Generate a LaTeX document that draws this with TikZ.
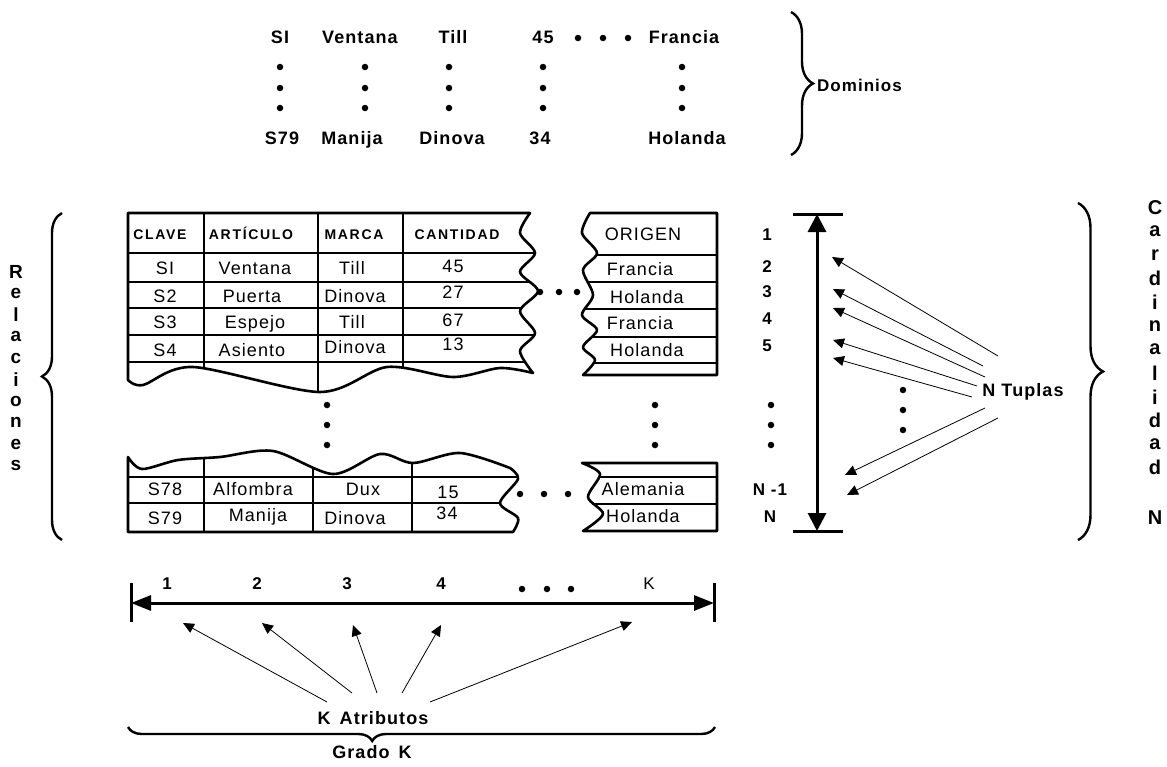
\documentclass[tikz,border=0pt]{standalone}
\usepackage{fontspec}
\setmainfont{Liberation Sans}[LetterSpace=6]
\newfontfamily\hfont{Liberation Sans}[LetterSpace=12]
\usetikzlibrary{arrows.meta,decorations.pathreplacing}
\begin{document}
\begin{tikzpicture}[x=1pt,y=-1pt,
  outl/.style={line width=2.6pt,line join=round},
  rowl/.style={line width=1.8pt},
  coll/.style={line width=2.3pt},
  dot/.style={circle,fill=black,inner sep=0pt,minimum size=6.5pt},
  lab/.style={font=\bfseries\fontsize{18}{21}\selectfont,inner sep=0pt,anchor=base,yshift=-6.4pt},
  cell/.style={font=\fontsize{18}{21}\selectfont,inner sep=0pt,anchor=base,yshift=-6.4pt},
  head/.style={font=\hfont\bfseries\fontsize{14}{17}\selectfont,inner sep=0pt,anchor=base,yshift=-5pt},
  num/.style={font=\bfseries\fontsize{17}{20}\selectfont,inner sep=0pt,anchor=base,yshift=-6.1pt},
  vlet/.style={font=\bfseries\fontsize{19}{22}\selectfont,inner sep=0pt},
  bigarrow/.style={line width=3pt,{Triangle[width=18pt,length=18pt]}-{Triangle[width=18pt,length=18pt]}},
  hbigarrow/.style={line width=3pt,{Triangle[width=15pt,length=20pt]}-{Triangle[width=15pt,length=20pt]}},
  thinarrow/.style={line width=0.8pt,-{Triangle[width=10pt,length=11pt]}},
  tick/.style={line width=3pt},
  brc/.style={decorate,line width=2.4pt,decoration={brace,amplitude=#1}},
  pUM/.style={insert path={(128,213) -- (530,213) -- plot[smooth] coordinates {(530,213) (520,233) (535,253) (520,272) (538,291) (520,311) (535,333) (520,351) (533,373)} -- plot[smooth] coordinates {(533,373) (500,368) (453,377) (387,367) (320,392) (193,367) (143,385) (128,380)} -- cycle}},
  pUO/.style={insert path={(590,213) -- (717,213) -- (717,375) -- (583,375) -- plot[smooth] coordinates {(583,375) (595,360) (583,347) (597,330) (582,315) (593,295) (583,270) (597,253) (582,233) (590,213)} -- cycle}},
  pLM/.style={insert path={(128,532) -- (128,457) -- plot[smooth] coordinates {(128,457) (142,469) (178,460) (220,457) (273,451) (333,474) (380,454) (413,463) (460,453) (510,468)} -- plot[smooth] coordinates {(510,468) (518,479) (500,503) (518,518) (513,532)} -- cycle}},
  pLO/.style={insert path={(582,463) -- (717,463) -- (717,531) -- (583,531) -- plot[smooth] coordinates {(583,531) (603,514) (588,497) (600,474) (582,463)} -- cycle}}
]
\fill[white] (0,0) rectangle (1167,766);
\useasboundingbox (0,0) rectangle (1167,766);

% ---------- Dominios ----------
\node[lab] (dSI) at (280,37) {SI};
\node[lab] (dVen) at (360,37) {Ventana};
\node[lab] (dTill) at (453,37) {Till};
\node[lab] (d45) at (543,37) {45};
\node[lab] (dFra) at (684,37) {Francia};
\node[dot] (dh1) at (578,38) {};
\node[dot] (dh2) at (603,38) {};
\node[dot] (dh3) at (628,38) {};
\foreach \xx/\nn in {280/a,365/b,449/c,543/d,682/e}
  \foreach \yy/\mm in {67/1,88/2,108/3}
    \node[dot] (dv\nn\mm) at (\xx,\yy) {};
\node[lab] (dS79) at (282,138) {S79};
\node[lab] (dMan) at (352,138) {Manija};
\node[lab] (dDin) at (452,138) {Dinova};
\node[lab] (d34) at (540,138) {34};
\node[lab] (dHol) at (687,138) {Holanda};
\draw[brc=22pt] (791,12) -- (791,155);
\node[font=\bfseries\fontsize{17}{20}\selectfont,inner sep=0pt,anchor=west] (dom) at (817,85) {Dominios};

% ---------- upper table ----------
\begin{scope}
\clip[pUM];
\foreach \yy in {253,282,308,335,362} \draw[rowl] (100,\yy) -- (560,\yy);
\foreach \xx in {204,318,403} \draw[coll] (\xx,200) -- (\xx,400);
\end{scope}
\draw[outl,pUM];

\begin{scope}
\clip[pUO];
\foreach \yy in {255,282,309,337,363} \draw[rowl] (560,\yy) -- (730,\yy);
\end{scope}
\draw[outl,pUO];

\node[head] (hCla) at (160,234) {CLAVE};
\node[head] (hArt) at (251,234) {ARTÍCULO};
\node[head] (hMar) at (354,234) {MARCA};
\node[head] (hCan) at (457,234) {CANTIDAD};
\node[cell] (hOri) at (643,234) {ORIGEN};

\node[cell] (c11) at (165,268) {SI};
\node[cell] (c12) at (255,268) {Ventana};
\node[cell] (c13) at (352,268) {Till};
\node[cell] (c14) at (453,266) {45};
\node[cell] (c15) at (640,269) {Francia};
\node[cell] (c21) at (165,296) {S2};
\node[cell] (c22) at (252,296) {Puerta};
\node[cell] (c23) at (355,296) {Dinova};
\node[cell] (c24) at (453,292) {27};
\node[cell] (c25) at (647,297) {Holanda};
\node[cell] (c31) at (165,322) {S3};
\node[cell] (c32) at (255,322) {Espejo};
\node[cell] (c33) at (352,322) {Till};
\node[cell] (c34) at (453,320) {67};
\node[cell] (c35) at (640,323) {Francia};
\node[cell] (c41) at (165,350) {S4};
\node[cell] (c42) at (252,350) {Asiento};
\node[cell] (c43) at (355,347) {Dinova};
\node[cell] (c44) at (453,344) {13};
\node[cell] (c45) at (647,350) {Holanda};

\node[dot] (ud1) at (540,292) {};
\node[dot] (ud2) at (559,292) {};
\node[dot] (ud3) at (577,292) {};

\node[num] (n1) at (767,234) {1};
\node[num] (n2) at (767,266) {2};
\node[num] (n3) at (767,291) {3};
\node[num] (n4) at (767,318) {4};
\node[num] (n5) at (767,345) {5};

% ---------- vertical dots ----------
\foreach \xx/\nn in {327/a,655/b,771/c}
  \foreach \yy/\mm in {405/1,425/2,445/3}
    \node[dot] (vd\nn\mm) at (\xx,\yy) {};

% ---------- lower table ----------
\begin{scope}
\clip[pLM];
\foreach \yy in {477,503} \draw[rowl] (100,\yy) -- (560,\yy);
\foreach \xx in {204,313,412} \draw[coll] (\xx,440) -- (\xx,540);
\end{scope}
\draw[outl,pLM];

\begin{scope}
\clip[pLO];
\foreach \yy in {477,504} \draw[rowl] (560,\yy) -- (730,\yy);
\end{scope}
\draw[outl,pLO];

\node[cell] (l11) at (165,489) {S78};
\node[cell] (l12) at (253,489) {Alfombra};
\node[cell] (l13) at (363,489) {Dux};
\node[cell] (l14) at (448,492) {15};
\node[cell] (l15) at (643,489) {Alemania};
\node[cell] (l21) at (165,518) {S79};
\node[cell] (l22) at (258,515) {Manija};
\node[cell] (l23) at (355,518) {Dinova};
\node[cell] (l24) at (447,513) {34};
\node[cell] (l25) at (643,516) {Holanda};

\node[dot] (ld1) at (520,494) {};
\node[dot] (ld2) at (544,494) {};
\node[dot] (ld3) at (568,494) {};

\node[num] (nN1) at (770,489) {N -1};
\node[num] (nN) at (770,516) {N};

% ---------- cardinality arrow ----------
\coordinate (vt) at (817,214);
\coordinate (vb) at (817,531);
\draw[tick] (793,214) -- (843,214);
\draw[tick] (793,531) -- (843,531);
\draw[bigarrow] (vt) -- (vb);

\node[lab] (ntup) at (1023,390) {N Tuplas};
\foreach \sx/\sy/\tx/\ty [count=\i] in {998/356/832/257, 983/366/833/289, 985/377/833/308, 977/386/833/340, 972/397/833/358, 985/408/845/475, 998/418/847/495}{
  \coordinate (ts\i) at (\sx,\sy);
  \coordinate (tt\i) at (\tx,\ty);
  \draw[thinarrow] (ts\i) -- (tt\i);
}
\node[dot] (nd1) at (903,390) {};
\node[dot] (nd2) at (903,410) {};
\node[dot] (nd3) at (903,430) {};

% ---------- side braces ----------
\draw[brc=20pt] (62,540) -- (62,213);
\foreach \c [count=\k from 0] in {R,e,l,a,c,i,o,n,e,s}
  \node[vlet] (rel\k) at (16,{272+21.55*\k}) {\c};
\draw[brc=25pt] (1078,203) -- (1078,540);
\foreach \c [count=\k from 0] in {C,a,r,d,i,n,a,l,i,d,a,d}
  \node[vlet,font=\bfseries\fontsize{20}{23}\selectfont] (car\k) at (1155,{208+23.6*\k}) {\c};
\node[vlet,font=\bfseries\fontsize{20}{23}\selectfont] (carN) at (1155,518) {N};

% ---------- degree ----------
\node[num] (k1) at (167,583) {1};
\node[num] (k2) at (257,583) {2};
\node[num] (k3) at (347,583) {3};
\node[num] (k4) at (441,583) {4};
\node[dot] (kd1) at (522,589) {};
\node[dot] (kd2) at (547,589) {};
\node[dot] (kd3) at (571,589) {};
\node[num,font=\fontsize{17}{20}\selectfont] (kK) at (649,583) {K};
\coordinate (hl) at (131,603);
\coordinate (hr) at (714,603);
\draw[tick] (131,583) -- (131,622);
\draw[tick] (714,583) -- (714,622);
\draw[hbigarrow] (hl) -- (hr);

\node[lab] (katr) at (373,718) {K\,\ Atributos};
\foreach \sx/\sy/\tx/\ty [count=\i] in {327/702/183/623, 352/693/262/623, 377/693/353/625, 402/693/441/625, 430/702/632/622}{
  \coordinate (as\i) at (\sx,\sy);
  \coordinate (at\i) at (\tx,\ty);
  \draw[thinarrow] (as\i) -- (at\i);
}
\draw[brc=14pt,decoration={aspect=0.584}] (715,727) -- (128,727);
\node[lab] (grado) at (372,752) {Grado\,\ K};
\end{tikzpicture}
\end{document}
